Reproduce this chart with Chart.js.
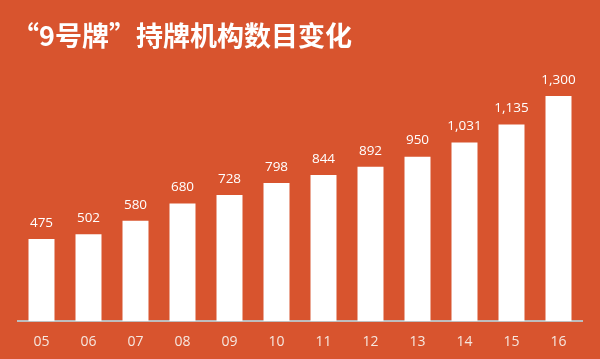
<!DOCTYPE html>
<html>
<head>
<meta charset="utf-8">
<script src="https://cdn.jsdelivr.net/npm/chart.js@4"></script>
<style>
html,body{margin:0;padding:0;background:#D8542E;}
#wrap{position:relative;width:600px;height:359px;}
</style>
</head>
<body>
<div id="wrap"><canvas id="c" width="600" height="359"></canvas></div>
<script>
const titleText = '“9号牌”持牌机构数目变化';
const categories = ['05','06','07','08','09','10','11','12','13','14','15','16'];
const counts = [475, 502, 580, 680, 728, 798, 844, 892, 950, 1031, 1135, 1300];

const titlePlugin = {
  id: 'titleText',
  afterDraw(chart) {
    const ctx = chart.ctx;
    ctx.save();
    ctx.fillStyle = '#FFFFFF';
    ctx.font = 'bold 27px "Noto Sans CJK SC", "Noto Sans", sans-serif';
    ctx.textBaseline = 'middle';
    ctx.textAlign = 'left';
    ctx.fillText(titleText, 12, 36);
    ctx.restore();
  }
};

const valueLabels = {
  id: 'valueLabels',
  afterDatasetsDraw(chart) {
    const ctx = chart.ctx;
    const meta = chart.getDatasetMeta(0);
    ctx.save();
    ctx.fillStyle = '#FFFFFF';
    ctx.font = '13.5px "Open Sans", "Liberation Sans", sans-serif';
    ctx.textAlign = 'center';
    ctx.textBaseline = 'middle';
    meta.data.forEach((bar, i) => {
      ctx.fillText(counts[i].toLocaleString('en-US'), bar.x, bar.y - 16);
    });
    ctx.restore();
  }
};

new Chart(document.getElementById('c'), {
  type: 'bar',
  data: {
    labels: categories,
    datasets: [{
      data: counts,
      backgroundColor: '#FFFFFF',
      borderWidth: 0,
      categoryPercentage: 1,
      barPercentage: 0.553
    }]
  },
  options: {
    responsive: false,
    animation: false,
    devicePixelRatio: 1,
    layout: { padding: { top: 96, left: 18, right: 18, bottom: -3 } },
    plugins: { legend: { display: false }, tooltip: { enabled: false }, title: { display: false } },
    scales: {
      x: {
        grid: { display: false, drawTicks: false },
        border: { display: true, color: '#BDBDBD', width: 2 },
        ticks: { color: '#F6E7DF', font: { size: 14, family: '"Open Sans", "Liberation Sans", sans-serif' }, padding: 12 }
      },
      y: {
        display: false,
        min: 0,
        max: 1300
      }
    }
  },
  plugins: [titlePlugin, valueLabels]
});
</script>
</body>
</html>
